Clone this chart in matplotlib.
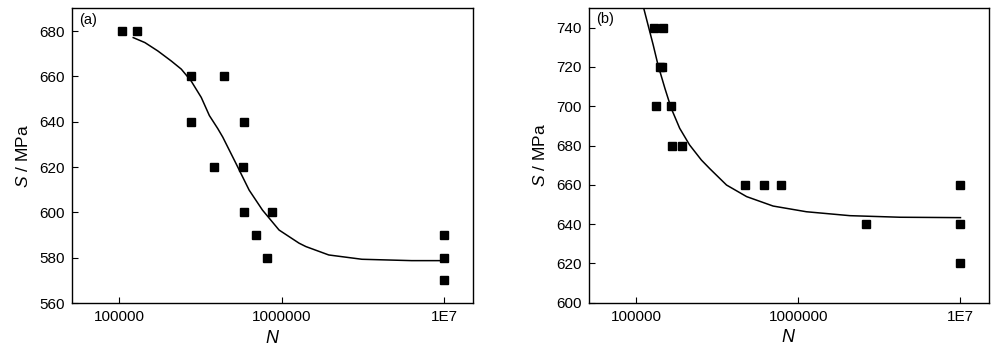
import matplotlib
matplotlib.use("Agg")
import matplotlib.pyplot as plt

plt.rcParams['font.family'] = ['Liberation Sans', 'DejaVu Sans']
plt.rcParams['font.size'] = 10.5
plt.rcParams['mathtext.fontset'] = 'custom'
plt.rcParams['mathtext.rm'] = 'Liberation Sans'
plt.rcParams['mathtext.it'] = 'Liberation Sans:italic'

# panel (a) test points
n_a = [104000, 128000, 277000, 277000, 441000, 385000, 589000, 575000,
       583000, 697000, 818000, 869000, 1e7, 1e7, 1e7]
s_a = [680, 680, 660, 640, 660, 620, 640, 620, 600, 590, 580, 600, 590, 580, 570]

# panel (a) fitted curve
fit_n_a = [1.22e5, 1.44e5, 1.73e5, 2.09e5, 2.41e5, 2.77e5, 3.20e5, 3.59e5,
           4.04e5, 4.34e5, 5.24e5, 6.31e5, 7.62e5, 9.64e5, 1.28e6, 1.41e6,
           1.95e6, 3.12e6, 6.31e6, 9.64e6]
fit_s_a = [677.1, 674.9, 671.2, 666.8, 663.2, 658.0, 650.7, 642.7,
           637.0, 633.2, 621.5, 609.8, 601.0, 592.2, 586.4, 584.9,
           581.2, 579.3, 578.7, 578.7]

# panel (b) test points
n_b = [128000, 146000, 140000, 144000, 133000, 164000, 166000, 192000,
       467000, 612000, 776000, 2.6e6, 1e7, 1e7, 1e7]
s_b = [740, 740, 720, 720, 700, 700, 680, 680, 660, 660, 660, 640, 660, 640, 620]

# panel (b) fitted curve
fit_n_b = [1.11e5, 1.18e5, 1.27e5, 1.36e5, 1.50e5, 1.64e5, 1.85e5, 2.13e5,
           2.52e5, 2.84e5, 3.60e5, 4.79e5, 6.98e5, 1.12e6, 2.08e6, 4.24e6, 1.0e7]
fit_s_b = [749.9, 741.4, 731.2, 721.0, 709.1, 699.0, 688.8, 680.3,
           672.6, 668.2, 659.9, 654.0, 649.2, 646.3, 644.3, 643.5, 643.3]

xticks = [1e5, 1e6, 1e7]
xtick_labels = ['100000', '1000000', '1E7']

fig = plt.figure(figsize=(10, 3.58), dpi=100)
ax1 = fig.add_axes([0.0717, 0.1536, 0.401, 0.823])
ax2 = fig.add_axes([0.589, 0.1545, 0.400, 0.823])

panels = [
    (ax1, n_a, s_a, fit_n_a, fit_s_a, (560, 690), range(560, 681, 20), '(a)'),
    (ax2, n_b, s_b, fit_n_b, fit_s_b, (600, 750), range(600, 741, 20), '(b)'),
]

for ax, n, s, fn, fs, ylim, yt, tag in panels:
    ax.plot(fn, fs, color='black', lw=1.1, solid_joinstyle='round')
    ax.plot(n, s, 's', color='black', ms=5.2, mec='black')
    ax.set_xscale('log')
    ax.set_xlim(5.1e4, 1.5e7)
    ax.set_ylim(*ylim)
    ax.set_xticks(xticks)
    ax.set_xticklabels(xtick_labels)
    ax.minorticks_off()
    ax.set_yticks(list(yt))
    ax.tick_params(direction='in', length=4, width=0.8, pad=5, labelsize=11)
    for sp in ax.spines.values():
        sp.set_linewidth(1.0)
    ax.set_xlabel('$N$', fontsize=13, labelpad=4)
    ax.set_ylabel('$S$ / MPa', fontsize=12.5, labelpad=6)
    ax.text(0.018, 0.985, tag, transform=ax.transAxes, va='top', ha='left', fontsize=10.5)

fig.savefig('out.png', dpi=100)
